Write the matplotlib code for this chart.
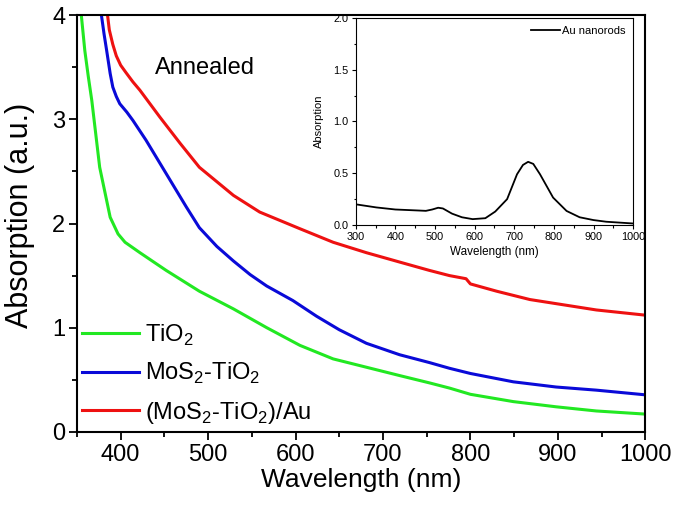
import numpy as np
import matplotlib
matplotlib.use("Agg")
import matplotlib.pyplot as plt
from matplotlib.ticker import MultipleLocator, FormatStrFormatter

plt.rcParams['font.family'] = ['Liberation Sans', 'DejaVu Sans']
plt.rcParams['mathtext.fontset'] = 'custom'
plt.rcParams['mathtext.rm'] = 'Liberation Sans'

# TiO2
wl_tio2 = [355, 359, 363, 367, 376, 388, 397, 405, 422, 452, 490, 529, 567, 605, 643, 681,
           719, 753, 776, 800, 849, 898, 944, 1000]
ab_tio2 = [4.0, 3.66, 3.41, 3.18, 2.54, 2.06, 1.90, 1.82, 1.72, 1.55, 1.35, 1.18, 1.00, 0.83,
           0.70, 0.62, 0.54, 0.47, 0.42, 0.36, 0.29, 0.24, 0.20, 0.17]
# MoS2-TiO2
wl_mos = [378, 381, 384, 388, 391, 395, 399, 407, 414, 429, 452, 475, 490, 510, 529, 548,
          567, 597, 624, 650, 681, 719, 753, 776, 800, 849, 898, 944, 1000]
ab_mos = [4.0, 3.82, 3.66, 3.44, 3.31, 3.22, 3.15, 3.07, 2.99, 2.80, 2.48, 2.16, 1.96, 1.78,
          1.64, 1.51, 1.40, 1.26, 1.11, 0.98, 0.85, 0.74, 0.665, 0.61, 0.56, 0.48, 0.43, 0.40, 0.355]
# (MoS2-TiO2)/Au
wl_au = [385, 387, 391, 395, 400, 406, 414, 422, 445, 468, 490, 529, 559, 605, 643, 681, 719,
         753, 776, 795, 800, 830, 868, 906, 944, 1000]
ab_au = [4.0, 3.86, 3.72, 3.61, 3.52, 3.45, 3.36, 3.28, 3.02, 2.77, 2.54, 2.27, 2.11, 1.95,
         1.82, 1.72, 1.63, 1.55, 1.50, 1.47, 1.42, 1.35, 1.27, 1.22, 1.17, 1.12]
# Au nanorods (inset)
wl_rod = [300, 352, 400, 460, 477, 493, 508, 520, 543, 568, 595, 627, 652, 682, 707, 722,
          735, 748, 765, 798, 832, 865, 900, 932, 1000]
ab_rod = [0.20, 0.17, 0.15, 0.14, 0.137, 0.15, 0.167, 0.16, 0.11, 0.075, 0.057, 0.066, 0.13,
          0.25, 0.49, 0.58, 0.61, 0.59, 0.49, 0.265, 0.136, 0.075, 0.048, 0.032, 0.015]

fig = plt.figure(figsize=(6.75, 5.08), dpi=100)
ax = fig.add_axes([0.114, 0.150, 0.842, 0.820])
ax.plot(wl_tio2, ab_tio2, color='#22e822', lw=2.2, label='TiO$_2$')
ax.plot(wl_mos, ab_mos, color='#0a0ad8', lw=2.2, label='MoS$_2$-TiO$_2$')
ax.plot(wl_au, ab_au, color='#ee1111', lw=2.2, label='(MoS$_2$-TiO$_2$)/Au')
ax.set_xlim(350, 1000)
ax.set_ylim(0, 4)
ax.xaxis.set_major_locator(MultipleLocator(100))
ax.xaxis.set_minor_locator(MultipleLocator(50))
ax.yaxis.set_major_locator(MultipleLocator(1))
ax.yaxis.set_minor_locator(MultipleLocator(0.5))
ax.tick_params(which='major', direction='out', length=5.5, width=1.3, labelsize=17, pad=3)
ax.tick_params(which='minor', direction='out', length=3.5, width=1.3)
ax.tick_params(top=False, right=False)
for s in ax.spines.values():
    s.set_linewidth(1.5)
ax.set_xlabel('Wavelength (nm)', fontsize=19, labelpad=2)
ax.set_ylabel('Absorption (a.u.)', fontsize=22)
ax.yaxis.set_label_coords(-0.074, 0.52)
ax.text(0.137, 0.86, 'Annealed', transform=ax.transAxes, fontsize=17)
leg = ax.legend(loc='lower left', bbox_to_anchor=(-0.021, -0.025), frameon=False,
                fontsize=17, handlelength=2.45, handletextpad=0.25, labelspacing=0.57,
                borderaxespad=0.3)

ins = fig.add_axes([0.527, 0.557, 0.411, 0.408])
ins.plot(wl_rod, ab_rod, color='black', lw=1.3, label='Au nanorods')
ins.set_xlim(300, 1000)
ins.set_ylim(0, 2.0)
ins.xaxis.set_major_locator(MultipleLocator(100))
ins.xaxis.set_minor_locator(MultipleLocator(50))
ins.yaxis.set_major_locator(MultipleLocator(0.5))
ins.yaxis.set_minor_locator(MultipleLocator(0.25))
ins.yaxis.set_major_formatter(FormatStrFormatter('%.1f'))
ins.tick_params(which='major', direction='out', length=3, width=0.8, labelsize=7.8, pad=2)
ins.tick_params(which='minor', direction='out', length=1.8, width=0.8)
for s in ins.spines.values():
    s.set_linewidth(0.8)
ins.set_xlabel('Wavelength (nm)', fontsize=8.4, labelpad=3)
ins.set_ylabel('Absorption', fontsize=8, labelpad=7)
ins.legend(loc='upper right', frameon=False, fontsize=8, handlelength=2.6, handletextpad=0.15,
           borderaxespad=0.3)

fig.savefig('out.png', dpi=100)
